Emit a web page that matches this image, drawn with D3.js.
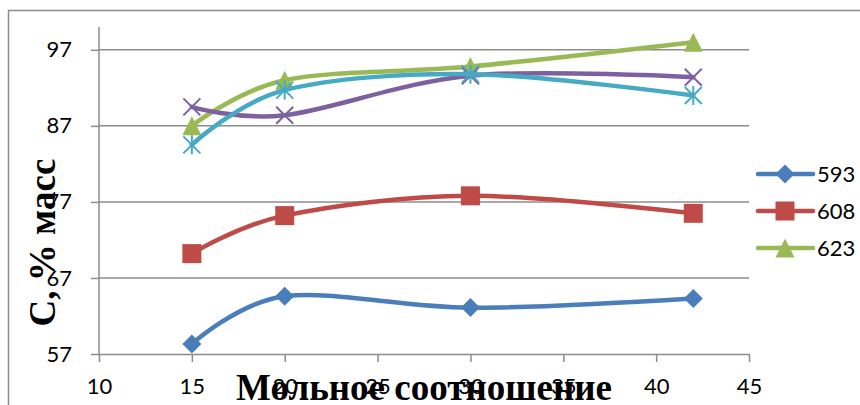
<!DOCTYPE html>
<html><head><meta charset="utf-8">
<script src="https://cdn.jsdelivr.net/npm/d3@7"></script>
<style>html,body{margin:0;padding:0;background:#fff;}svg{display:block;}</style>
</head><body>
<svg id="c" width="860" height="405"></svg>
<script>
const xValues = [15, 20, 30, 42];
const seriesNames = ["593", "608", "623", "638", "653"];
const s593 = [58.3, 64.6, 63.1, 64.3];
const s608 = [70.2, 75.2, 77.8, 75.5];
const s623 = [87.0, 93.0, 94.8, 98.0];
const s638 = [89.5, 88.4, 93.6, 93.4];
const s653 = [84.5, 91.7, 93.8, 91.0];
const xTicks = [10, 15, 20, 25, 30, 35, 40, 45];
const yTicks = [57, 67, 77, 87, 97];
const legendShown = ["593", "608", "623"];

const seriesValues = [s593, s608, s623, s638, s653];
const colors = ["#4A7EBB", "#BE4B48", "#98B954", "#7D60A0", "#46AAC5"];
const markers = ["diamond", "square", "triangle", "x", "star"];

const svg = d3.select("#c");
const x = d3.scaleLinear().domain([10, 45]).range([99, 749]);
const y = d3.scaleLinear().domain([57, 100]).range([354, 27]);

// outer frame
svg.append("rect").attr("x", 8.5).attr("y", 10.5).attr("width", 900).attr("height", 450)
  .attr("fill", "none").attr("stroke", "#8c8c8c").attr("stroke-width", 1.5);

// gridlines
svg.append("g").selectAll("line").data(yTicks.filter(d => d !== 57)).join("line")
  .attr("x1", x(10)).attr("x2", x(45)).attr("y1", d => y(d)).attr("y2", d => y(d))
  .attr("stroke", "#8c8c8c").attr("stroke-width", 1.5);

const tickFont = "Lato, 'Open Sans', sans-serif";
// y axis
const yAxis = svg.append("g").attr("transform", `translate(${x(10)},0)`)
  .call(d3.axisLeft(y).tickValues(yTicks).tickSize(8).tickPadding(19).tickSizeOuter(0));
yAxis.select(".domain").attr("stroke", "#8c8c8c").attr("stroke-width", 1.5)
  .attr("d", `M0,${y(100)}V${y(57)}`);
yAxis.selectAll(".tick line").attr("stroke", "#8c8c8c").attr("stroke-width", 1.5);
yAxis.selectAll(".tick text").attr("font-family", tickFont).attr("font-size", 22).attr("fill", "#000");

// x axis
const xAxis = svg.append("g").attr("transform", `translate(0,${y(57)})`)
  .call(d3.axisBottom(x).tickValues(xTicks).tickSize(8).tickPadding(16).tickSizeOuter(0));
xAxis.select(".domain").attr("stroke", "#8c8c8c").attr("stroke-width", 1.5);
xAxis.selectAll(".tick line").attr("stroke", "#8c8c8c").attr("stroke-width", 1.5);
xAxis.selectAll(".tick text").attr("font-family", tickFont).attr("font-size", 22).attr("fill", "#000");

function markerPath(type, cx, cy) {
  const p = d3.path();
  if (type === "diamond") { const r = 9.5;
    p.moveTo(cx, cy - r); p.lineTo(cx + r, cy); p.lineTo(cx, cy + r); p.lineTo(cx - r, cy); p.closePath(); }
  else if (type === "square") { const r = 9.5; p.rect(cx - r, cy - r, 2 * r, 2 * r); }
  else if (type === "triangle") { const w = 9.5, h = 9.5;
    p.moveTo(cx, cy - h); p.lineTo(cx + w, cy + h); p.lineTo(cx - w, cy + h); p.closePath(); }
  else if (type === "x") { const r = 8.5;
    p.moveTo(cx - r, cy - r); p.lineTo(cx + r, cy + r); p.moveTo(cx + r, cy - r); p.lineTo(cx - r, cy + r); }
  else if (type === "star") { const r = 8.5;
    p.moveTo(cx - r, cy - r); p.lineTo(cx + r, cy + r); p.moveTo(cx + r, cy - r); p.lineTo(cx - r, cy + r);
    p.moveTo(cx, cy - r - 1); p.lineTo(cx, cy + r + 1); }
  return p.toString();
}
function styleMarker(sel, i) {
  const filled = markers[i] !== "x" && markers[i] !== "star";
  sel.attr("fill", filled ? colors[i] : "none").attr("stroke", colors[i])
    .attr("stroke-width", filled ? 0 : 2);
}

const line = d3.line().x(d => x(d[0])).y(d => y(d[1])).curve(d3.curveCardinal.tension(0));
seriesValues.forEach((vals, i) => {
  const pts = xValues.map((xv, j) => [xv, vals[j]]);
  const g = svg.append("g");
  g.append("path").attr("d", line(pts)).attr("fill", "none").attr("stroke", colors[i])
    .attr("stroke-width", 4.5).attr("stroke-linecap", "round").attr("stroke-linejoin", "round");
  g.selectAll("path.m").data(pts).join("path").attr("class", "m")
    .attr("d", d => markerPath(markers[i], x(d[0]), y(d[1]))).call(styleMarker, i);
});

// legend
legendShown.forEach((name, k) => {
  const i = seriesNames.indexOf(name);
  const ly = 174 + k * 37;
  const g = svg.append("g");
  g.append("line").attr("x1", 758).attr("x2", 813).attr("y1", ly).attr("y2", ly)
    .attr("stroke", colors[i]).attr("stroke-width", 4.5).attr("stroke-linecap", "round");
  g.append("path").attr("d", markerPath(markers[i], 785, ly)).call(styleMarker, i);
  g.append("text").attr("x", 817).attr("y", ly).attr("dy", "0.35em").text(name)
    .attr("font-family", tickFont).attr("font-size", 22).attr("fill", "#000");
});

// axis titles
svg.append("text").attr("x", 424).attr("y", 400).attr("text-anchor", "middle")
  .attr("font-family", "'Liberation Serif', 'Times New Roman', serif").attr("font-weight", "bold")
  .attr("font-size", 37).attr("textLength", 376).attr("lengthAdjust", "spacingAndGlyphs")
  .attr("fill", "#000").text("Мольное соотношение");
svg.append("text").attr("transform", "translate(55,242.5) rotate(-90)").attr("text-anchor", "middle")
  .attr("font-family", "'Liberation Serif', 'Times New Roman', serif").attr("font-weight", "bold")
  .attr("font-size", 37).attr("fill", "#000").text("C, % масс");
</script>
</body></html>
